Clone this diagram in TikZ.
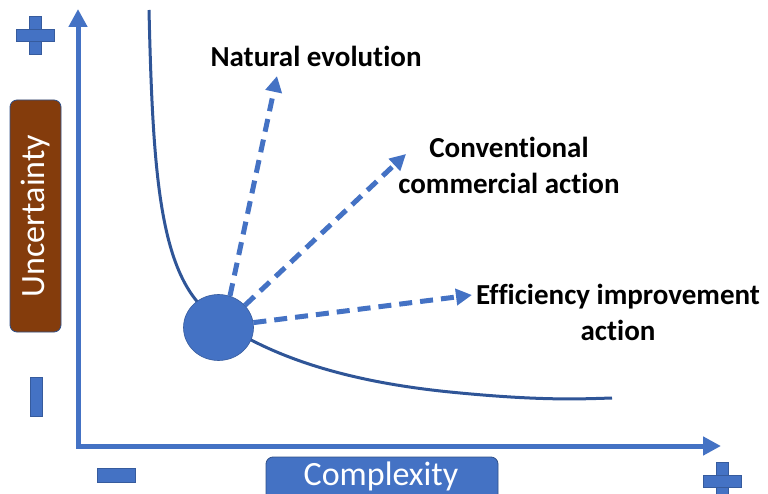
\documentclass[tikz,border=0pt]{standalone}
\usepackage{fontspec}
\setmainfont{Carlito}[Ligatures=NoCommon]
\usetikzlibrary{arrows.meta, shapes.geometric}
\definecolor{axisblue}{HTML}{4472C4}
\definecolor{curveblue}{HTML}{2F5597}
\definecolor{boxbrown}{HTML}{843C0C}

\tikzset{
  axis/.style={line width=5pt, axisblue, -{Triangle[length=18pt,width=18pt]}},
  trend/.style={line width=5pt, axisblue, dash pattern=on 13pt off 8pt, -{Triangle[length=16pt,width=16pt]}},
  label/.style={font=\fontsize{29}{36}\selectfont\bfseries, align=center},
  sign/.style={fill=axisblue, draw=axisblue!80!black, line width=0.6pt},
  tag/.style={draw=axisblue!70!black, line width=0.8pt, rounded corners=7pt,
    inner sep=0pt, anchor=center},
  tagtext/.style={text=white, font=\fontsize{34}{40}\selectfont}
}

\begin{document}
\begin{tikzpicture}[x=1pt,y=-1pt]
        \useasboundingbox (0,0) rectangle (768,494);

        % Draw axes
        \coordinate (origin) at (78,446);
        \coordinate (ytip) at (78,9);
        \coordinate (xtip) at (721,446);
        \draw[axis, line cap=rect] (78,443) -- (ytip);
        \draw[axis] (76,446) -- (xtip);

        % Plus and minus signs
        \fill[sign] (29,16) rectangle (41,54);
        \fill[sign] (16,29) rectangle (54,41);
        \draw[sign] (30,377) rectangle (42,416);
        \draw[sign] (97,468) rectangle (135,482);
        \fill[sign] (716,462) rectangle (728,500);
        \fill[sign] (703,475) rectangle (741,487);

        % Axis labels
        \node[tag, fill=boxbrown, minimum width=51pt, minimum height=232pt] (uncert) at (35.5,216) {};
        \node[tagtext, rotate=90] at (uncert.center) {Uncertainty};
        \node[tag, fill=axisblue, minimum width=232pt, minimum height=46pt] (complex) at (382,480) {};
        \node[tagtext] at (381,476) {Complexity};

        % Draw the curve
        \draw[curveblue, line width=3pt] (149,10)
            .. controls (153,180) and (160,280) .. (215,318)
            .. controls (260,350) and (330,380) .. (450,392)
            .. controls (540,401) and (580,399) .. (612,398);

        % Starting point
        \node[ellipse, minimum width=70pt, minimum height=66pt, fill=axisblue, draw=axisblue!80!black, line width=0.6pt, inner sep=0pt] (start) at (218.5,327.5) {};

        % Trend arrows
        \coordinate (natural) at (277,76);
        \coordinate (conv) at (406,154);
        \coordinate (eff) at (472,295);
        \draw[trend] (start.70) -- (natural);
        \draw[trend] (start.40) -- (conv);
        \draw[trend] (start.8) -- (eff);

        % Labels of the trends
        \node[label] (lnat) at (316,56) {Natural evolution};
        \node[label] (lconv) at (509,165) {Conventional\\commercial action};
        \node[label] (leff) at (618,312) {Efficiency improvement\\action};
    \end{tikzpicture}
\end{document}
